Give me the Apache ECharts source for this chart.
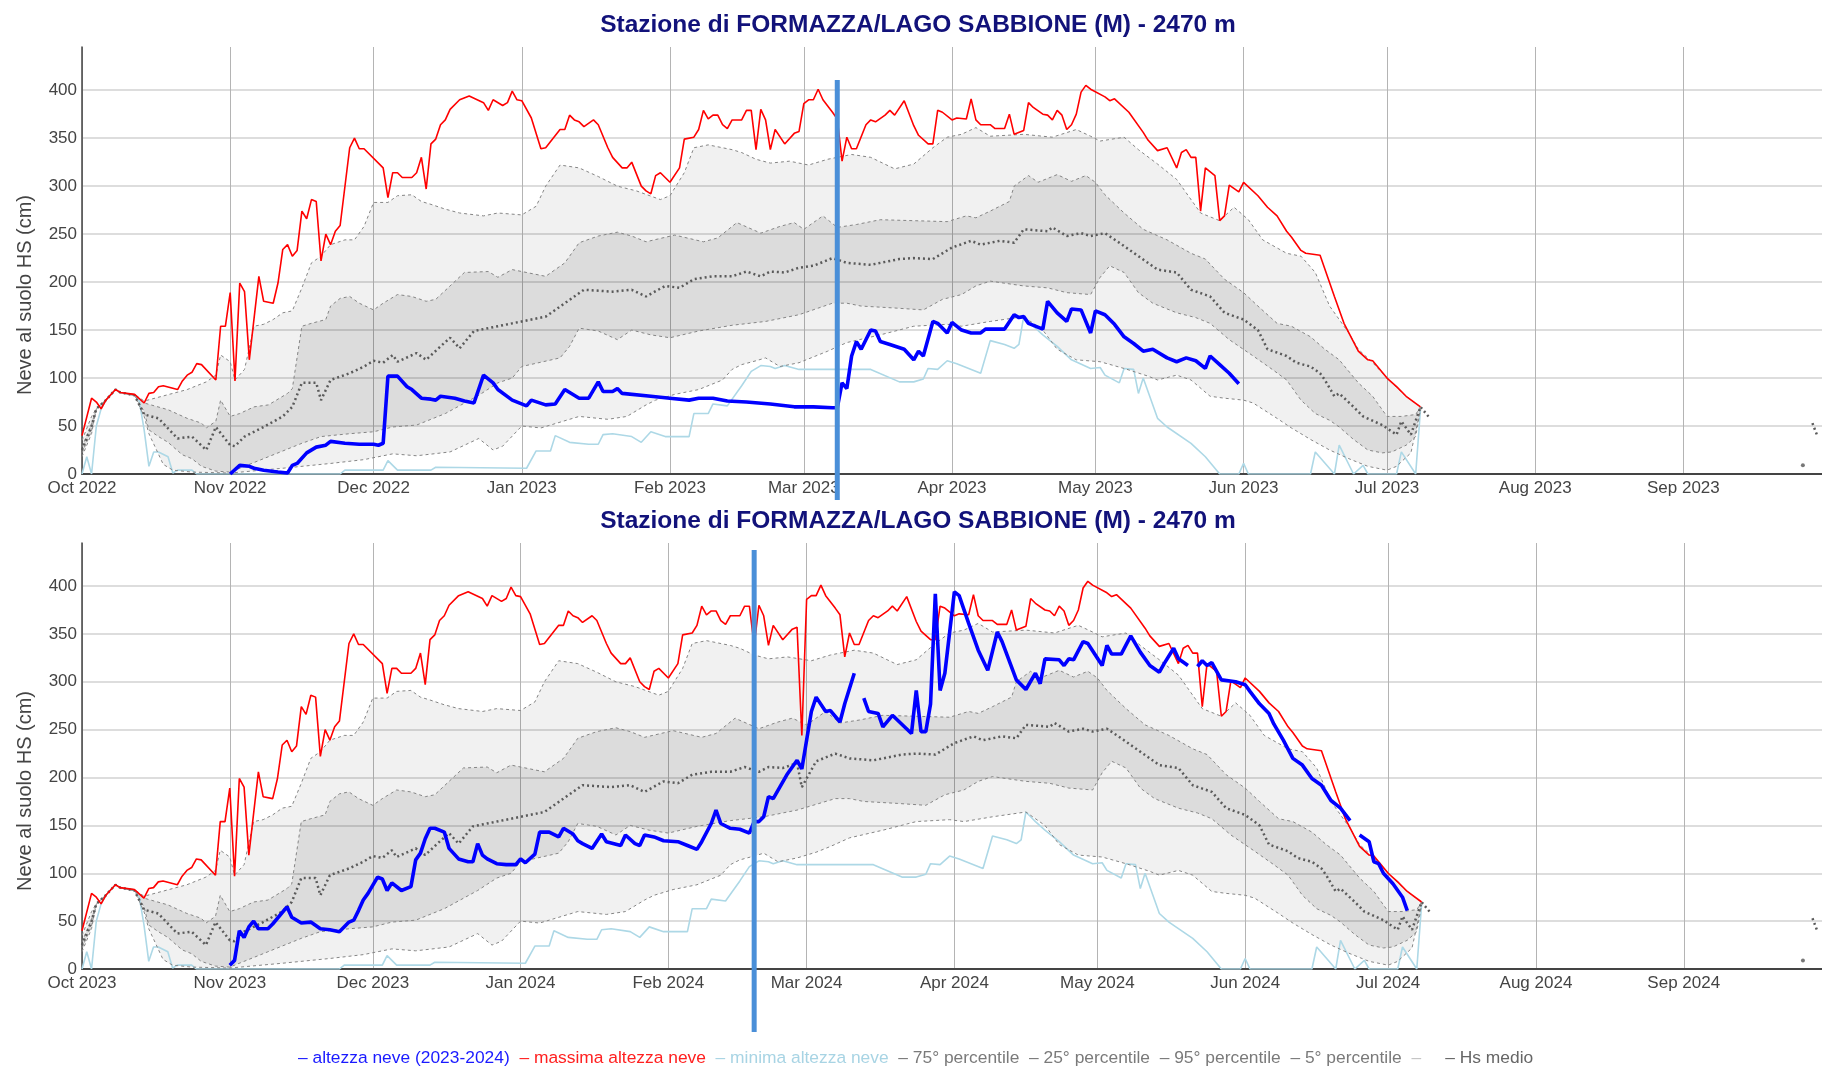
<!DOCTYPE html>
<html>
<head>
<meta charset="utf-8">
<title>Stazione di FORMAZZA/LAGO SABBIONE (M) - 2470 m</title>
<script src="https://cdn.jsdelivr.net/npm/echarts@6/dist/echarts.min.js"></script>
<style>
  html, body { margin: 0; padding: 0; background: #fff; }
  #chart { width: 1822px; height: 1069px; }
</style>
</head>
<body>
<div id="chart"></div>
<script>
// climatology, [day since 1 Oct (non-leap count), cm]
const maxHS = [[0,40],[2,79],[3,75],[4,68],[5,77],[7,88],[8,85],[11,83],[13,74],[14,84],[15,85],[16,91],[17,92],[20,88],[21,97],[22,103],[23,106],[24,115],[25,114],[28,98],[29,154],[30,154],[31,189],[32,97],[33,199],[34,190],[35,119],[37,206],[38,180],[40,178],[41,199],[42,234],[43,239],[44,227],[45,233],[46,274],[47,266],[48,286],[49,284],[50,222],[51,250],[52,239],[53,253],[54,259],[56,340],[57,350],[58,339],[59,339],[63,319],[64,288],[65,314],[66,314],[67,309],[69,309],[70,314],[71,330],[72,297],[73,344],[74,349],[75,364],[76,369],[77,380],[79,390],[81,394],[84,387],[85,379],[86,390],[88,384],[89,387],[90,399],[91,390],[92,389],[94,371],[96,339],[97,340],[100,359],[101,359],[102,374],[103,369],[104,367],[105,362],[107,369],[108,364],[110,340],[111,330],[113,319],[114,319],[115,325],[117,300],[118,295],[119,292],[120,311],[121,314],[123,304],[125,319],[126,349],[128,351],[129,359],[130,379],[131,370],[132,374],[133,374],[134,364],[135,360],[136,369],[138,369],[139,379],[140,379],[141,338],[142,380],[143,369],[144,338],[145,359],[147,344],[149,355],[150,357],[151,386],[152,390],[153,390],[154,401],[155,390],[157,377],[158,370],[159,326],[160,351],[161,339],[162,339],[164,364],[165,369],[166,367],[168,374],[169,379],[170,374],[172,389],[174,363],[175,353],[177,344],[178,344],[179,379],[180,377],[182,369],[183,371],[185,370],[186,391],[187,369],[188,364],[190,364],[191,360],[193,360],[194,375],[195,354],[197,358],[198,387],[199,382],[201,375],[202,374],[203,369],[204,379],[205,374],[206,359],[207,364],[208,375],[209,398],[210,405],[211,401],[214,393],[215,389],[216,391],[219,377],[222,356],[223,348],[225,337],[227,340],[229,319],[230,335],[231,338],[232,330],[233,330],[234,274],[235,319],[237,311],[238,264],[239,269],[240,301],[242,294],[243,304],[246,290],[248,278],[250,269],[252,253],[253,247],[255,233],[256,230],[259,228],[262,185],[264,157],[267,128],[269,119],[270,118],[273,100],[275,91],[277,81],[280,70]];
const minHS = [[0,0],[1,18],[2,0],[3,50],[4,68],[5,77],[7,88],[8,85],[11,82],[12,76],[13,46],[14,8],[15,23],[16,23],[18,18],[19,1],[20,4],[23,4],[24,0],[54,0],[55,4],[63,4],[64,14],[66,4],[73,4],[74,7],[93,6],[95,24],[98,24],[99,40],[102,33],[106,31],[108,31],[109,41],[111,42],[115,39],[117,33],[119,44],[122,39],[127,39],[128,63],[131,63],[132,73],[135,71],[138,92],[140,107],[142,113],[144,112],[145,110],[147,113],[150,109],[165,109],[171,96],[174,96],[176,99],[177,110],[179,109],[181,118],[183,115],[188,105],[190,139],[193,135],[195,131],[196,135],[197,164],[198,159],[199,154],[201,145],[204,133],[207,119],[211,110],[213,111],[214,103],[217,95],[218,110],[220,109],[221,84],[222,100],[225,58],[227,49],[232,32],[235,18],[238,0],[242,0],[243,11],[244,0],[257,0],[258,23],[262,0],[263,30],[266,0],[268,9],[269,0],[275,0],[276,23],[279,0],[280,67]];
const p95 = [[0,35],[2,60],[3,68],[5,77],[7,88],[8,85],[11,83],[13,76],[19,84],[22,88],[26,96],[28,103],[29,124],[31,117],[32,98],[34,109],[36,154],[38,156],[40,161],[42,168],[44,170],[46,194],[48,220],[50,227],[52,239],[55,244],[57,244],[59,258],[61,283],[64,283],[66,290],[69,291],[71,284],[73,281],[76,276],[79,272],[84,269],[87,272],[92,270],[95,279],[97,300],[100,322],[104,319],[108,310],[112,300],[116,295],[121,286],[123,290],[126,314],[128,340],[131,343],[136,338],[138,335],[141,328],[144,324],[148,326],[152,322],[156,328],[161,333],[165,330],[170,318],[174,323],[178,340],[181,351],[184,354],[187,361],[190,352],[197,354],[203,351],[208,359],[211,352],[213,347],[218,351],[221,338],[225,323],[229,307],[234,272],[238,264],[241,278],[244,265],[247,244],[252,230],[255,227],[258,210],[261,175],[265,147],[267,130],[270,116],[274,95],[277,81],[280,70]];
const p75 = [[0,28],[2,52],[3,68],[5,77],[7,88],[8,85],[11,82],[13,74],[18,67],[22,58],[25,53],[26,48],[28,55],[29,77],[31,60],[33,63],[36,70],[39,72],[43,84],[44,89],[46,154],[48,157],[51,161],[52,175],[54,183],[56,185],[58,178],[61,171],[63,178],[66,187],[69,185],[72,180],[74,182],[77,196],[80,210],[85,211],[87,205],[90,213],[97,206],[101,220],[104,241],[108,248],[112,252],[115,248],[118,242],[124,249],[130,242],[133,246],[137,262],[142,251],[146,258],[149,262],[151,255],[155,269],[158,257],[162,260],[167,265],[174,264],[181,263],[185,269],[187,267],[190,274],[194,284],[195,300],[198,311],[200,304],[204,312],[207,305],[210,311],[212,304],[214,291],[218,272],[222,255],[227,244],[232,230],[235,224],[239,203],[243,189],[246,175],[250,157],[253,154],[257,143],[260,130],[263,119],[267,95],[270,81],[273,60],[276,60],[279,62],[280,70]];
const p25 = [[0,22],[2,45],[3,68],[5,77],[7,88],[8,85],[11,82],[13,65],[14,46],[16,39],[18,33],[21,20],[23,16],[25,8],[28,3],[31,2],[35,10],[39,18],[46,32],[50,39],[56,42],[61,44],[65,49],[70,51],[76,63],[83,82],[87,95],[90,100],[92,112],[100,121],[102,133],[104,152],[108,149],[112,140],[115,150],[119,145],[123,142],[129,149],[136,155],[143,159],[150,166],[157,178],[160,178],[163,175],[170,173],[176,171],[180,182],[184,187],[187,196],[190,201],[197,196],[202,194],[206,189],[211,187],[213,205],[215,217],[218,210],[221,189],[224,178],[229,168],[233,163],[236,157],[240,140],[245,123],[249,109],[252,98],[255,77],[258,63],[261,56],[263,49],[266,36],[269,25],[272,22],[274,23],[277,30],[279,39],[280,67]];
const p5 = [[0,18],[2,42],[3,68],[5,77],[7,88],[8,85],[11,82],[13,60],[14,42],[17,10],[19,4],[23,2],[31,1],[42,6],[52,11],[59,15],[65,21],[70,19],[77,23],[83,37],[86,25],[88,29],[92,50],[96,48],[104,60],[110,57],[114,60],[118,72],[120,77],[124,83],[129,88],[134,98],[136,109],[138,114],[141,118],[143,121],[146,112],[150,116],[153,122],[156,128],[160,137],[167,145],[174,154],[181,156],[184,154],[190,159],[197,164],[201,150],[204,130],[208,119],[213,117],[218,110],[223,102],[225,98],[229,103],[232,98],[236,81],[239,79],[243,77],[245,74],[250,58],[253,48],[257,36],[261,25],[265,16],[269,8],[273,4],[275,8],[278,22],[280,67]];
const meanHS = [[0,25],[2,50],[3,68],[5,77],[7,88],[8,85],[11,82],[13,62],[16,58],[20,37],[23,39],[26,25],[28,49],[31,30],[32,29],[34,39],[38,49],[42,60],[44,70],[46,95],[49,95],[50,77],[52,98],[56,105],[59,112],[61,118],[63,116],[65,124],[66,117],[70,126],[72,119],[75,133],[77,142],[79,131],[82,149],[87,154],[90,157],[97,164],[101,178],[105,192],[111,190],[115,192],[118,185],[122,196],[125,194],[128,203],[132,206],[136,206],[139,211],[142,206],[144,211],[147,210],[150,215],[153,217],[157,225],[160,220],[165,218],[171,224],[174,225],[178,224],[182,236],[186,243],[188,239],[192,243],[195,241],[197,255],[202,253],[203,257],[206,248],[209,251],[211,248],[214,251],[217,241],[221,227],[225,213],[229,210],[232,192],[236,185],[239,168],[243,161],[246,150],[248,130],[252,123],[254,116],[257,112],[259,105],[260,98],[262,81],[263,84],[266,70],[268,60],[272,51],[275,41],[276,55],[278,41],[280,70],[282,58],[300,null],[362,53],[363,40]];
const lateDot = [[360,9]];
// 29 Feb only exists in leap seasons
const feb29Max = 244;
const feb29Mean = 190;

// season snow depth, [day since 1 Oct, cm]
const hs2223 = [[31,0],[33,9],[35,8],[36,6],[38,4],[41,2],[43,1],[44,9],[45,11],[47,22],[49,28],[51,30],[52,34],[55,32],[58,31],[61,31],[62,30],[63,32],[64,102],[66,102],[68,91],[69,88],[71,79],[73,78],[74,77],[75,81],[78,79],[80,76],[82,74],[84,103],[86,95],[87,88],[90,77],[93,71],[94,77],[97,72],[99,73],[101,88],[104,79],[106,79],[108,96],[109,86],[111,86],[112,89],[113,84],[119,81],[123,79],[127,77],[129,79],[132,79],[135,76],[139,75],[144,73],[149,70],[153,70],[157,69],[158,69],[159,95],[160,89],[161,123],[162,138],[163,130],[165,150],[166,149],[167,138],[169,135],[172,130],[174,119],[175,128],[176,123],[178,159],[179,157],[181,147],[182,158],[184,150],[186,147],[188,147],[189,151],[193,151],[195,166],[196,163],[197,164],[198,157],[201,151],[202,180],[204,168],[206,159],[207,172],[209,171],[211,147],[212,170],[214,166],[216,156],[218,143],[220,136],[222,128],[224,130],[227,121],[229,117],[231,121],[233,118],[235,110],[236,123],[238,114],[240,105],[242,94]];
const hs2324 = [[31,4],[32,9],[33,40],[34,33],[35,44],[36,50],[37,42],[39,42],[40,47],[43,65],[44,54],[46,48],[48,49],[50,42],[52,41],[54,39],[56,49],[57,51],[58,61],[59,72],[60,79],[62,96],[63,94],[64,82],[65,90],[67,82],[69,86],[70,114],[71,121],[72,136],[73,147],[74,147],[76,143],[77,126],[79,115],[81,112],[82,112],[83,131],[84,119],[85,115],[87,110],[89,109],[91,109],[92,115],[93,111],[95,120],[96,143],[98,143],[100,138],[101,147],[103,141],[104,134],[105,131],[107,126],[109,141],[110,133],[113,129],[114,140],[116,131],[117,129],[118,140],[120,138],[122,134],[125,133],[127,129],[129,125],[130,133],[132,152],[133,166],[134,152],[136,147],[138,146],[140,142],[141,154],[142,154],[143,159],[144,180],[145,178],[148,204],[150,218],[151,209],[153,269],[154,284],[156,269],[157,270],[159,258],[160,277],[162,309],[163,null],[164,283],[165,269],[167,267],[168,253],[170,265],[174,246],[175,291],[176,248],[177,248],[178,277],[179,392],[180,291],[181,309],[183,394],[184,390],[186,361],[188,333],[190,312],[192,352],[193,342],[196,302],[198,292],[200,309],[201,298],[202,324],[205,323],[206,317],[207,324],[208,323],[210,342],[211,340],[214,317],[215,338],[216,329],[218,329],[220,348],[222,331],[224,317],[226,310],[227,319],[229,335],[230,324],[232,317],[233,null],[234,316],[235,322],[236,317],[237,320],[239,302],[242,300],[244,297],[245,290],[247,277],[249,267],[250,256],[252,239],[254,220],[256,213],[258,199],[260,192],[262,176],[264,168],[266,155],[267,null],[268,140],[270,133],[271,112],[272,110],[273,100],[275,89],[277,75],[278,61]];

const seasons = [2022, 2023];
const markerDates = ['2023-03-08', '2024-02-19'];

const DAY = 86400000;
const MONTHS = ['Jan', 'Feb', 'Mar', 'Apr', 'May', 'Jun', 'Jul', 'Aug', 'Sep', 'Oct', 'Nov', 'Dec'];
const FONT = '"Liberation Sans", Arial, sans-serif';
const TITLE = 'Stazione di FORMAZZA/LAGO SABBIONE (M) - 2470 m';

const gridTop = [47, 543];
const gridHeight = [427, 426];
const markerSpan = [[80, 500], [550, 1032]];

function isLeap(y) { return (y % 4 === 0 && y % 100 !== 0) || y % 400 === 0; }

function climTime(startYear, idx) {
  const shift = (isLeap(startYear + 1) && idx >= 151) ? 1 : 0;
  return Date.UTC(startYear, 9, 1) + (idx + shift) * DAY;
}

function climData(arr, startYear) {
  return arr.map(p => [climTime(startYear, p[0]), p[1]]);
}

function withFeb29(data, startYear, v) {
  if (!isLeap(startYear + 1)) return data;
  const out = data.concat([[Date.UTC(startYear + 1, 1, 29), v]]);
  return out.sort((a, b) => a[0] - b[0]);
}

function monthLabel(value) {
  const d = new Date(value);
  return MONTHS[d.getUTCMonth()] + ' ' + d.getUTCFullYear();
}

function line(g, name, data, color, width, type, z) {
  return {
    type: 'line', name: name, xAxisIndex: g, yAxisIndex: g, data: data,
    showSymbol: false, symbol: 'none', connectNulls: false, silent: true, z: z,
    lineStyle: { color: color, width: width, type: type },
    itemStyle: { color: color }
  };
}

function band(g, upper, lower, color) {
  const pts = upper.concat(lower.slice().reverse());
  return {
    type: 'custom', xAxisIndex: g, yAxisIndex: g, silent: true, z: 1,
    data: pts,
    renderItem: function (params, api) {
      if (params.dataIndex !== 0) return null;
      return {
        type: 'polygon',
        shape: { points: pts.map(p => api.coord(p)) },
        style: { fill: color }
      };
    }
  };
}

const grids = [], xAxes = [], yAxes = [], titles = [], series = [];

seasons.forEach(function (y, g) {
  grids.push({ left: 82, right: 0, top: gridTop[g], height: gridHeight[g] });
  titles.push({
    text: TITLE, left: 913, top: gridTop[g] - 39, textAlign: 'center',
    textStyle: { fontSize: 24.5, fontWeight: 'bold', color: '#12127a', fontFamily: FONT }
  });
  xAxes.push({
    type: 'time', gridIndex: g,
    min: Date.UTC(y, 9, 1), max: Date.UTC(y + 1, 8, 30),
    splitNumber: 12, minInterval: 28 * DAY, maxInterval: 31 * DAY,
    axisLine: { show: true, onZero: false, lineStyle: { color: '#444', width: 2 } },
    axisTick: { show: false },
    axisLabel: { formatter: monthLabel, fontSize: 17, color: '#444', margin: 6, fontFamily: FONT },
    splitLine: { show: true, showMaxLine: false, lineStyle: { color: '#b4b4b4', width: 1 } }
  });
  yAxes.push({
    type: 'value', gridIndex: g, min: 0, max: 445, interval: 50,
    axisLine: { show: true, lineStyle: { color: '#444', width: 1.5 } },
    axisTick: { show: false },
    axisLabel: { fontSize: 17, color: '#444', margin: 5, showMaxLabel: false, fontFamily: FONT },
    splitLine: { show: true, showMaxLine: false, lineStyle: { color: '#d2d2d2', width: 1.5 } }
  });

  const d95 = climData(p95, y), d75 = climData(p75, y), d25 = climData(p25, y), d5 = climData(p5, y);
  series.push(band(g, d95, d5, 'rgba(0,0,0,0.055)'));
  series.push(band(g, d75, d25, 'rgba(0,0,0,0.085)'));
  series.push(line(g, '95° percentile', d95, '#858585', 1, [3, 3], 3));
  series.push(line(g, '75° percentile', d75, '#858585', 1, [3, 3], 3));
  series.push(line(g, '25° percentile', d25, '#858585', 1, [3, 3], 3));
  series.push(line(g, '5° percentile', d5, '#858585', 1, [3, 3], 3));
  series.push(line(g, 'minima altezza neve', climData(minHS, y), '#add8e6', 1.6, 'solid', 2));
  series.push(line(g, 'Hs medio', withFeb29(climData(meanHS, y), y, feb29Mean), '#5a5a5a', 2.5, [2, 3], 4));
  series.push(line(g, 'massima altezza neve', withFeb29(climData(maxHS, y), y, feb29Max), '#ff0000', 1.6, 'solid', 5));
  series.push({
    type: 'scatter', xAxisIndex: g, yAxisIndex: g, silent: true, z: 4,
    data: climData(lateDot, y), symbolSize: 4, itemStyle: { color: '#555' }
  });
  const hs = g === 0 ? hs2223 : hs2324;
  series.push(line(g, 'altezza neve (' + y + '-' + (y + 1) + ')',
    hs.map(p => [Date.UTC(y, 9, 1) + p[0] * DAY, p[1]]), '#0000ff', 3.6, 'solid', 6));
});

const legendText = '{b|– altezza neve (2023-2024)}  {r|– massima altezza neve}  {c|– minima altezza neve}  ' +
  '{g|– 75° percentile}  {g|– 25° percentile}  {g|– 95° percentile}  {g|– 5° percentile}  {e|–}     {m|– Hs medio}';

const LF = 17.4;
const baseGraphic = [
  {
    id: 'yname0', type: 'text', x: 25, y: 295, rotation: Math.PI / 2,
    style: { text: 'Neve al suolo HS (cm)', fontSize: 20, fontFamily: FONT, fill: '#444', align: 'center', verticalAlign: 'middle' }
  },
  {
    id: 'yname1', type: 'text', x: 25, y: 791, rotation: Math.PI / 2,
    style: { text: 'Neve al suolo HS (cm)', fontSize: 20, fontFamily: FONT, fill: '#444', align: 'center', verticalAlign: 'middle' }
  },
  {
    id: 'legend', type: 'text', x: 298, y: 1058,
    style: {
      text: legendText, fontSize: LF, fontFamily: FONT, verticalAlign: 'middle',
      rich: {
        b: { fill: '#1a1aff', fontSize: LF, fontFamily: FONT },
        r: { fill: '#ff2020', fontSize: LF, fontFamily: FONT },
        c: { fill: '#a8d4e4', fontSize: LF, fontFamily: FONT },
        g: { fill: '#7a7a7a', fontSize: LF, fontFamily: FONT },
        e: { fill: '#c4c4c4', fontSize: LF, fontFamily: FONT },
        m: { fill: '#666666', fontSize: LF, fontFamily: FONT }
      }
    }
  }
];

const chart = echarts.init(document.getElementById('chart'));
chart.setOption({
  useUTC: true,
  animation: false,
  backgroundColor: '#fff',
  title: titles,
  grid: grids,
  xAxis: xAxes,
  yAxis: yAxes,
  series: series,
  graphic: baseGraphic
});

// vertical date markers, placed through the time axes
const markers = markerDates.map(function (d, g) {
  const px = chart.convertToPixel({ xAxisIndex: g }, Date.parse(d + 'T00:00:00Z'));
  return {
    id: 'marker' + g, type: 'line', z: 100,
    shape: { x1: px, y1: markerSpan[g][0], x2: px, y2: markerSpan[g][1] },
    style: { stroke: '#4a8fd8', lineWidth: 5 }
  };
});
chart.setOption({ graphic: baseGraphic.concat(markers) });
</script>
</body>
</html>
